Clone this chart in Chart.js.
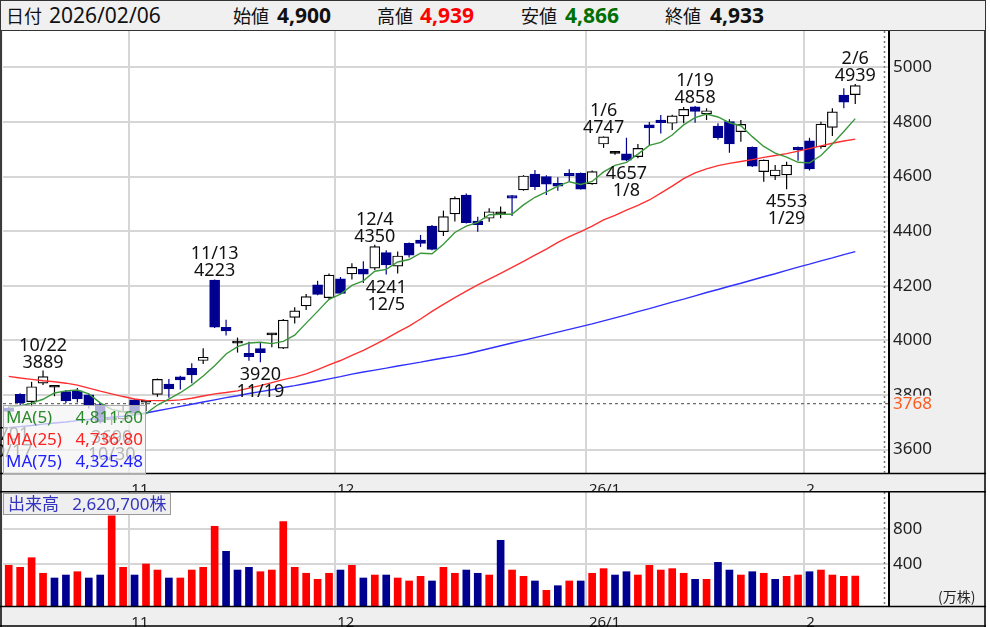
<!DOCTYPE html>
<html>
<head>
<meta charset="utf-8">
<script src="https://cdn.jsdelivr.net/npm/chart.js@4.4.1/dist/chart.umd.min.js"></script>
<style>
  body { margin: 0; background: #fff; font-family: "Noto Sans", "Noto Sans CJK JP", sans-serif; }
  #wrap { position: relative; width: 990px; height: 627px; overflow: hidden; }
  #head { position: absolute; left: 0; top: 0; width: 984px; height: 29px; background: #f0f0f0; border: 1px solid #333; }
  #head span { position: absolute; top: 0; line-height: 29px; white-space: pre; color: #111; }
  .lab { font-family: "Noto Sans CJK JP", sans-serif; font-size: 18px; }
  .val { font-size: 21px; }
  .bold { font-weight: bold; }
  canvas { position: absolute; left: 0; }
  #pc { top: 31px; }
  #vc { top: 491px; }
  #maBox { position: absolute; left: 3px; top: 405px; width: 141px; height: 67px; background: rgba(244,244,244,0.72); border: 1px solid #aaa; font-size: 17px; }
  #maBox div { display: flex; justify-content: space-between; height: 22px; line-height: 22px; padding: 0 2px 0 2px; }
  #volBox { position: absolute; left: 3px; top: 493px; height: 20px; line-height: 20px; padding: 0 4px; background: #efefef; border: 1px solid #999; color: #3434c0; font-size: 17px; white-space: pre; }
  #unit { position: absolute; left: 938px; top: 586px; font-size: 14px; color: #222; font-family: "Noto Sans CJK JP", sans-serif; }
</style>
</head>
<body>
<div id="wrap">
  <div id="head"></div>
  <canvas id="pc" width="986" height="460"></canvas>
  <canvas id="vc" width="986" height="136"></canvas>
  <div id="maBox"></div>
  <div id="volBox"></div>
  <div id="unit">(万株)</div>
</div>
<script>
Chart.defaults.font.family = '"Noto Sans", "Noto Sans CJK JP", sans-serif';
Chart.defaults.color = '#222';

// trading days shown (75 bars)
const dates = ['10/17','10/20','10/21','10/22','10/23','10/24','10/27','10/28','10/29','10/30','10/31',
  '11/4','11/5','11/6','11/7','11/10','11/11','11/12','11/13','11/14','11/17','11/18','11/19','11/20','11/21','11/25','11/26','11/27','11/28',
  '12/1','12/2','12/3','12/4','12/5','12/8','12/9','12/10','12/11','12/12','12/15','12/16','12/17','12/18','12/19','12/22','12/23','12/24','12/25','12/26','12/29','12/30',
  '1/5','1/6','1/7','1/8','1/9','1/13','1/14','1/15','1/16','1/19','1/20','1/21','1/22','1/23','1/26','1/27','1/28','1/29','1/30',
  '2/2','2/3','2/4','2/5','2/6'];

const open = [3752,3802,3775,3843,3828,3812,3815,3800,3765,3708,3712,3782,3773,3802,3840,3866,3897,3926,4221,4048,
  3990,3952,3970,4020,3971,4084,4126,4203,4156,4225,4243,4261,4264,4321,4272,4355,4367,4418,4398,4463,
  4532,4437,4447,4463,4530,4551,4609,4600,4575,4612,4612,4573,4719,4685,4683,4673,4789,4807,4795,4822,
  4855,4829,4785,4801,4764,4707,4618,4602,4606,4707,4731,4709,4780,4898,4900];
const high = [3758,3806,3848,3889,3830,3818,3825,3805,3770,3735,3760,3785,3775,3860,3858,3870,3916,3971,4223,4075,
  4010,3995,3990,4025,4078,4121,4170,4218,4245,4232,4282,4290,4350,4330,4325,4358,4386,4422,4475,4527,
  4538,4453,4484,4490,4532,4605,4624,4605,4597,4627,4615,4622,4747,4690,4742,4719,4800,4825,4826,4855,
  4858,4850,4795,4810,4807,4710,4662,4642,4654,4710,4742,4801,4850,4923,4939];
const low = [3701,3760,3757,3836,3795,3770,3772,3750,3695,3690,3705,3728,3740,3793,3790,3820,3843,3913,4045,4018,
  3955,3925,3920,3975,3968,4062,4111,4165,4148,4168,4223,4210,4258,4241,4245,4303,4342,4330,4382,4435,
  4428,4398,4434,4447,4455,4548,4551,4532,4548,4581,4552,4570,4705,4680,4657,4667,4715,4758,4770,4795,
  4797,4807,4735,4687,4727,4635,4581,4587,4553,4658,4622,4702,4748,4850,4866];
const close = [3740,3772,3830,3867,3828,3778,3785,3762,3700,3710,3740,3735,3773,3857,3822,3855,3873,3938,4048,4034,
  3990,3940,3955,4020,4074,4108,4160,4168,4239,4172,4267,4242,4343,4276,4309,4312,4355,4333,4453,4520,
  4431,4424,4471,4463,4521,4602,4563,4572,4565,4603,4554,4618,4745,4685,4660,4703,4778,4797,4822,4846,
  4838,4841,4742,4719,4791,4638,4660,4624,4642,4697,4628,4792,4837,4872,4933];

// volume in 万株
const volume = [385,362,472,294,240,274,312,240,274,952,362,274,400,331,240,240,331,362,831,545,
  331,362,312,331,884,362,294,225,294,331,385,240,274,274,240,206,259,206,362,294,
  331,294,274,671,331,259,206,99,152,206,206,294,347,274,312,274,385,331,347,294,
  225,225,419,331,274,312,294,225,259,274,312,331,274,259,262.07];
const latestVolume = 2620700;

const ma5 = [3755,3760,3770,3784,3807,3815,3818,3804,3771,3747,3739,3729,3732,3763,3785,3808,3836,3869,3907,3950,
  3977,3990,3993,3988,3996,4019,4063,4106,4150,4169,4201,4218,4253,4260,4287,4296,4319,4317,4352,4395,
  4418,4432,4460,4462,4462,4496,4524,4544,4565,4581,4571,4582,4617,4641,4652,4682,4714,4725,4752,4789,
  4816,4829,4818,4797,4786,4746,4710,4686,4671,4652,4650,4677,4719,4765,4812];
const ma25 = [3868,3862,3857,3852,3848,3843,3836,3825,3814,3804,3794,3785,3780,3779,3779,3782,3788,3796,3804,3809,
  3815,3825,3834,3845,3856,3865,3877,3893,3910,3926,3945,3963,3984,4006,4030,4052,4078,4106,4132,4156,
  4180,4203,4224,4245,4267,4289,4312,4334,4359,4380,4398,4418,4441,4458,4477,4494,4514,4539,4565,4592,
  4613,4628,4640,4648,4655,4662,4670,4677,4684,4693,4702,4712,4722,4730,4737];
const ma75 = [3680,3684,3688,3693,3697,3701,3706,3710,3714,3718,3722,3727,3734,3742,3750,3758,3766,3774,3782,3790,
  3797,3805,3812,3819,3827,3834,3842,3850,3859,3867,3876,3884,3891,3898,3906,3913,3920,3928,3935,3942,
  3950,3960,3970,3980,3990,4000,4010,4020,4030,4040,4050,4060,4071,4082,4093,4105,4116,4128,4140,4151,
  4163,4175,4186,4198,4209,4221,4233,4244,4256,4268,4279,4291,4302,4314,4325];
const maLatest = ['4,811.60', '4,736.80', '4,325.48'];

const priceTicks = [3600, 3800, 4000, 4200, 4400, 4600, 4800, 5000];
const volTicks = [400, 800];
const baseLine = 3768;
const monthStarts = [11, 29, 51, 70];
const monthLabels = ['11', '12', '26/1', '2'];
// labelled highs / lows
const marks = [[0,'l'],[3,'h'],[9,'l'],[18,'h'],[22,'l'],[32,'h'],[33,'l'],[52,'h'],[54,'l'],[60,'h'],[68,'l'],[74,'h']];

const NAVY = '#000090';
const X_MIN = -0.5, X_MAX = 76.95, NOW_LINE = 76.5;
const P_MIN = 3514, P_MAX = 5133;
const V_MIN = -80, V_MAX = 1223;

// header
const last = dates.length - 1;
const fmt = v => v.toLocaleString('en-US');
const head = document.getElementById('head');
head.innerHTML =
  '<span class="lab" style="left:5px">日付</span>' +
  '<span class="val" style="left:48px">2026/02/06</span>' +
  '<span class="lab" style="left:232px">始値</span>' +
  '<span class="val bold" style="left:276px">' + fmt(open[last]) + '</span>' +
  '<span class="lab" style="left:376px">高値</span>' +
  '<span class="val bold" style="left:419px;color:#ff0000">' + fmt(high[last]) + '</span>' +
  '<span class="lab" style="left:520px">安値</span>' +
  '<span class="val bold" style="left:564px;color:#006f00">' + fmt(low[last]) + '</span>' +
  '<span class="lab" style="left:664px">終値</span>' +
  '<span class="val bold" style="left:709px">' + fmt(close[last]) + '</span>';

document.getElementById('maBox').innerHTML =
  '<div style="color:#2a8a2a"><span>MA(5)</span><span>' + maLatest[0] + '</span></div>' +
  '<div style="color:#ff2020"><span>MA(25)</span><span>' + maLatest[1] + '</span></div>' +
  '<div style="color:#2020ff"><span>MA(75)</span><span>' + maLatest[2] + '</span></div>';
document.getElementById('volBox').textContent = '出来高   ' + fmt(latestVolume) + '株';

// panel backgrounds, frame lines, "now" dotted line
const panelPlugin = {
  id: 'panel',
  beforeDraw(chart) {
    const { ctx, chartArea: a, width, height } = chart;
    ctx.save();
    ctx.fillStyle = '#efefef';
    ctx.fillRect(0, 0, width, height);
    ctx.fillStyle = '#fff';
    ctx.fillRect(a.left, a.top, a.right - a.left, a.bottom - a.top);
    ctx.restore();
  },
  afterDraw(chart) {
    const { ctx, chartArea: a, width, height, scales: { x } } = chart;
    ctx.save();
    ctx.strokeStyle = '#000';
    ctx.lineWidth = 1.5;
    ctx.beginPath();
    ctx.moveTo(0, a.bottom + 0.5); ctx.lineTo(width, a.bottom + 0.5);
    ctx.moveTo(1, 0); ctx.lineTo(1, height);
    ctx.moveTo(985, 0); ctx.lineTo(985, height);
    ctx.stroke();
    const nx = Math.round(x.getPixelForValue(NOW_LINE)) + 0.5;
    ctx.strokeStyle = '#777';
    ctx.lineWidth = 1.5;
    ctx.setLineDash([2, 3]);
    ctx.beginPath();
    ctx.moveTo(nx, a.top); ctx.lineTo(nx, a.bottom);
    ctx.stroke();
    ctx.restore();
  }
};

const markPlugin = {
  id: 'marks',
  afterDatasetsDraw(chart) {
    const { ctx, scales: { x, y } } = chart;
    ctx.save();
    ctx.font = '18px "Noto Sans"';
    ctx.fillStyle = '#111';
    ctx.textAlign = 'center';
    marks.forEach(([i, kind]) => {
      const px = x.getPixelForValue(i);
      if (kind === 'h') {
        const py = y.getPixelForValue(high[i]);
        ctx.fillText(String(high[i]), px, py - 3);
        ctx.fillText(dates[i], px, py - 20);
      } else {
        const py = y.getPixelForValue(low[i]);
        ctx.fillText(String(low[i]), px, py + 18);
        ctx.fillText(dates[i], px, py + 35);
      }
    });
    // reference price label on the axis
    const by = y.getPixelForValue(baseLine);
    ctx.fillStyle = '#efefef';
    ctx.fillRect(chart.chartArea.right + 2, by - 8, 80, 17);
    ctx.fillStyle = '#ff5a1e';
    ctx.font = '17px "Noto Sans"';
    ctx.textAlign = 'left';
    ctx.textBaseline = 'middle';
    ctx.fillText(String(baseLine), chart.chartArea.right + 4, by + 1);
    ctx.restore();
  }
};

const isUp = i => close[i] > open[i];
const isDown = i => close[i] < open[i];
const candleFill = dates.map((d, i) => isUp(i) ? '#fff' : isDown(i) ? NAVY : '#000');
const candleLine = dates.map((d, i) => isDown(i) ? NAVY : '#000');
const volColors = dates.map((d, i) => (i === 0 || close[i] >= close[i - 1]) ? '#ff0000' : NAVY);

const noPadX = h => s => { s.height = h; s.paddingLeft = 0; s.paddingRight = 0; };
const noPadY = s => { s.width = 97; s.paddingTop = 0; s.paddingBottom = 0; };

const xGrid = {
  type: 'linear', min: X_MIN, max: X_MAX, position: 'bottom', offset: false, bounds: 'data',
  afterBuildTicks: s => { s.ticks = monthStarts.map(i => ({ value: i - 0.5 })); },
  ticks: { display: false },
  grid: { color: '#d6d6d6', lineWidth: 2, drawTicks: false, offset: false },
  border: { display: false },
  afterFit: noPadX(0)
};
const xLabels = h => ({
  type: 'linear', min: X_MIN, max: X_MAX, position: 'bottom', offset: false, bounds: 'data',
  afterBuildTicks: s => { s.ticks = monthStarts.map(i => ({ value: i - 0.28 })); },
  ticks: { align: 'start', maxRotation: 0, autoSkip: false, padding: 0, color: '#222',
    font: { size: 15 }, callback: (v, k) => monthLabels[k] },
  grid: { display: false, offset: false },
  border: { display: false },
  afterFit: noPadX(h)
});

new Chart(document.getElementById('pc'), {
  type: 'bar',
  data: {
    datasets: [
      { type: 'line', label: 'MA(5)', data: ma5.map((v, i) => ({ x: i, y: v })), borderColor: '#3a983a', borderWidth: 1.4, pointRadius: 0, order: 1 },
      { type: 'line', label: 'MA(25)', data: ma25.map((v, i) => ({ x: i, y: v })), borderColor: '#ff3030', borderWidth: 1.4, pointRadius: 0, order: 1 },
      { type: 'line', label: 'MA(75)', data: ma75.map((v, i) => ({ x: i, y: v })), borderColor: '#3030ff', borderWidth: 1.4, pointRadius: 0, order: 1 },
      { type: 'line', label: 'base', data: [{ x: X_MIN, y: baseLine }, { x: X_MAX, y: baseLine }], borderColor: '#666', borderWidth: 1.2, borderDash: [3, 3], pointRadius: 0, order: 5 },
      { label: 'wick', data: dates.map((d, i) => ({ x: i, y: [low[i], high[i]] })), backgroundColor: candleLine,
        barThickness: 1.2, grouped: false, inflateAmount: 0, order: 4 },
      { label: 'body', data: dates.map((d, i) => ({ x: i, y: [open[i], close[i]] })), backgroundColor: candleFill, borderColor: candleLine,
        borderWidth: 1.2, borderSkipped: false, barThickness: 10, minBarLength: 2, grouped: false, order: 3 }
    ]
  },
  options: {
    responsive: false, animation: false,
    layout: { padding: { left: 3, top: 0, right: 0, bottom: 0 } },
    plugins: { legend: { display: false }, tooltip: { enabled: false } },
    scales: {
      x: xGrid,
      xl: xLabels(18),
      y: {
        position: 'right', min: P_MIN, max: P_MAX,
        afterBuildTicks: s => { s.ticks = priceTicks.map(v => ({ value: v })); },
        ticks: { padding: 4, color: '#222', font: { size: 17 }, callback: v => String(v) },
        grid: { color: '#d6d6d6', lineWidth: 2, drawTicks: false },
        border: { display: true, color: '#000', width: 2 },
        afterFit: noPadY
      }
    }
  },
  plugins: [panelPlugin, markPlugin]
});

new Chart(document.getElementById('vc'), {
  type: 'bar',
  data: {
    datasets: [{
      label: '出来高', data: volume.map((v, i) => ({ x: i, y: [V_MIN, v] })),
      backgroundColor: volColors, barThickness: 7, grouped: false, borderSkipped: false
    }]
  },
  options: {
    responsive: false, animation: false,
    layout: { padding: { left: 3, top: 1, right: 0, bottom: 0 } },
    plugins: { legend: { display: false }, tooltip: { enabled: false } },
    scales: {
      x: xGrid,
      xl: xLabels(21),
      y: {
        position: 'right', min: V_MIN, max: V_MAX,
        afterBuildTicks: s => { s.ticks = volTicks.map(v => ({ value: v })); },
        ticks: { padding: 4, color: '#222', font: { size: 17 }, callback: v => String(v) },
        grid: { color: '#d6d6d6', lineWidth: 2, drawTicks: false },
        border: { display: true, color: '#000', width: 2 },
        afterFit: noPadY
      }
    }
  },
  plugins: [panelPlugin, {
    id: 'topLine',
    afterDraw(chart) {
      const { ctx, width, height } = chart;
      ctx.save();
      ctx.strokeStyle = '#000';
      ctx.lineWidth = 1.5;
      ctx.beginPath();
      ctx.moveTo(0, 0.75); ctx.lineTo(width, 0.75);
      ctx.moveTo(0, height - 1); ctx.lineTo(width, height - 1);
      ctx.stroke();
      ctx.restore();
    }
  }]
});
</script>
</body>
</html>
